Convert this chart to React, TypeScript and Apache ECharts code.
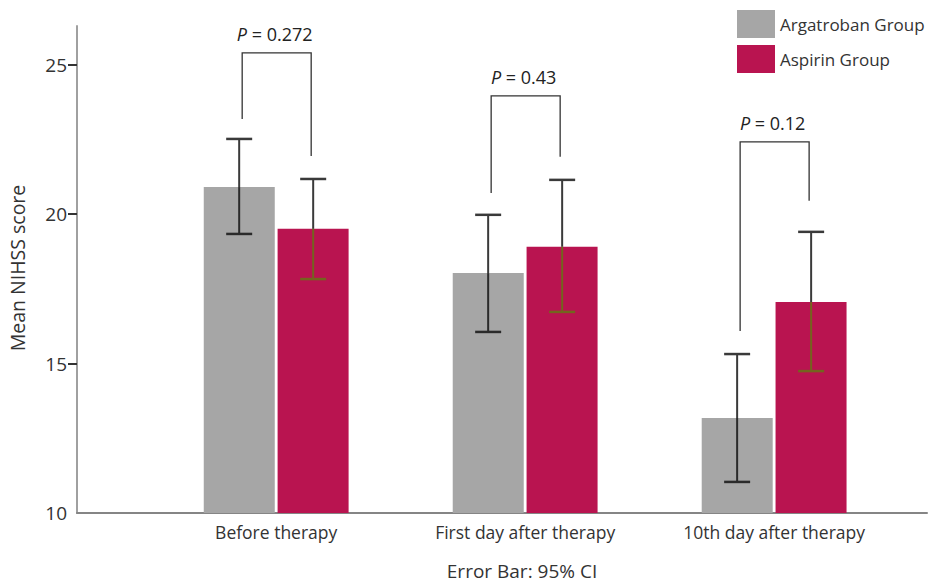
import React, { useEffect, useRef } from "react";
import * as echarts from "echarts";

const categories = ["Before therapy", "First day after therapy", "10th day after therapy"];
const categoryPositions = [1, 2, 3];
const seriesNames = ["Argatroban Group", "Aspirin Group"];
const argatrobanMean = [20.91, 18.03, 13.18];
const argatrobanLow = [19.34, 16.06, 11.04];
const argatrobanHigh = [22.52, 19.98, 15.32];
const aspirinMean = [19.51, 18.91, 17.06];
const aspirinLow = [17.83, 16.73, 14.75];
const aspirinHigh = [21.18, 21.15, 19.41];
const pValues = ["0.272", "0.43", "0.12"];
const bracketTop = [25.4, 23.96, 22.42];
const bracketLeftEnd = [23.19, 20.71, 16.09];
const bracketRightEnd = [21.95, 21.92, 20.45];
const yTicks = [10, 15, 20, 25];

const FONT = "'Open Sans', 'Noto Sans', sans-serif";
const GREY = "#a6a6a6";
const PINK = "#b91450";
const BAR_W = 71;
const HALF_OFFSET = 37;

export default function App() {
  const ref = useRef<HTMLDivElement>(null);

  useEffect(() => {
    if (!ref.current) return;
    const chart = echarts.init(ref.current, undefined, { renderer: "svg" });

    const makeErrorRender = (offset: number, innerColor: string) => (params: any, api: any) => {
      const x = api.value(0);
      const lo = api.coord([x, api.value(1)]);
      const hi = api.coord([x, api.value(2)]);
      const mean = api.coord([x, api.value(3)]);
      const cx = lo[0] + offset;
      const half = 13;
      const dark = "#3a3a3a";
      return {
        type: "group",
        children: [
          { type: "line", shape: { x1: cx, y1: hi[1], x2: cx, y2: mean[1] }, style: { stroke: dark, lineWidth: 2 } },
          { type: "line", shape: { x1: cx, y1: mean[1], x2: cx, y2: lo[1] }, style: { stroke: innerColor, lineWidth: 2 } },
          { type: "line", shape: { x1: cx - half, y1: hi[1], x2: cx + half, y2: hi[1] }, style: { stroke: dark, lineWidth: 2.5 } },
          { type: "line", shape: { x1: cx - half, y1: lo[1], x2: cx + half, y2: lo[1] }, style: { stroke: innerColor, lineWidth: 2.5 } },
        ],
      };
    };

    const bracketRender = (params: any, api: any) => {
      const x = api.value(0);
      const top = api.coord([x, api.value(1)]);
      const le = api.coord([x, api.value(2)]);
      const re = api.coord([x, api.value(3)]);
      const xl = top[0] - 34;
      const xr = top[0] + 35;
      const p = pValues[params.dataIndex];
      return {
        type: "group",
        children: [
          {
            type: "polyline",
            shape: { points: [[xl, le[1]], [xl, top[1]], [xr, top[1]], [xr, re[1]]] },
            style: { stroke: "#333", lineWidth: 1.3, fill: null },
          },
          {
            type: "text",
            x: (xl + xr) / 2 - 2,
            y: top[1] - 19,
            style: {
              text: "{i|P}{n| = " + p + "}",
              align: "center",
              verticalAlign: "middle",
              rich: {
                i: { fontStyle: "italic", fontSize: 18, fontFamily: FONT, fill: "#222" },
                n: { fontSize: 18, fontFamily: FONT, fill: "#222" },
              },
            },
          },
        ],
      };
    };

    chart.setOption({
      animation: false,
      backgroundColor: "#ffffff",
      textStyle: { fontFamily: FONT },
      grid: { left: 77, right: 2, top: 26, bottom: 73, containLabel: false },
      legend: {
        data: seriesNames,
        orient: "vertical",
        left: 737,
        top: 10,
        padding: 0,
        icon: "rect",
        itemWidth: 38,
        itemHeight: 28,
        itemGap: 7,
        textStyle: { fontSize: 17, color: "#333", fontFamily: FONT },
      },
      xAxis: {
        type: "value",
        min: 0.2,
        max: 3.614,
        splitLine: { show: false },
        axisLine: { show: true, lineStyle: { color: "#858585", width: 2 } },
        axisTick: { show: false },
        axisLabel: {
          customValues: categoryPositions,
          formatter: (v: number) => {
            const i = categoryPositions.indexOf(Math.round(v));
            return i >= 0 ? categories[i] : "";
          },
          fontSize: 17.5,
          color: "#333",
          margin: 10,
          fontFamily: FONT,
        },
      },
      yAxis: {
        type: "value",
        min: 10,
        max: 26.3,
        interval: 5,
        splitLine: { show: false },
        axisLine: { show: true, lineStyle: { color: "#a0a0a0", width: 2 } },
        axisTick: { show: true, customValues: [15, 20, 25], length: 9, lineStyle: { color: "#333", width: 2 } },
        axisLabel: { customValues: yTicks, fontSize: 19, color: "#333", margin: 10, fontFamily: FONT },
      },
      graphic: [
        {
          type: "text",
          x: 17,
          y: 268,
          rotation: Math.PI / 2,
          style: { text: "Mean NIHSS score", fontSize: 19.5, fill: "#333", align: "center", verticalAlign: "middle", fontFamily: FONT },
        },
        {
          type: "text",
          x: 522,
          y: 571,
          style: { text: "Error Bar: 95% CI", fontSize: 19, lineHeight: 20, fill: "#333", align: "center", verticalAlign: "middle", fontFamily: FONT },
        },
      ],
      series: [
        {
          name: seriesNames[0],
          type: "bar",
          barWidth: BAR_W,
          barGap: "4%",
          itemStyle: { color: GREY },
          data: categoryPositions.map((p, i) => [p, argatrobanMean[i]]),
        },
        {
          name: seriesNames[1],
          type: "bar",
          barWidth: BAR_W,
          barGap: "4%",
          itemStyle: { color: PINK },
          data: categoryPositions.map((p, i) => [p, aspirinMean[i]]),
        },
        {
          type: "custom",
          name: "errA",
          renderItem: makeErrorRender(-HALF_OFFSET, "#2a2a2a"),
          encode: { x: 0, y: [1, 2] },
          data: categoryPositions.map((p, i) => [p, argatrobanLow[i], argatrobanHigh[i], argatrobanMean[i]]),
          z: 5,
        },
        {
          type: "custom",
          name: "errB",
          renderItem: makeErrorRender(HALF_OFFSET, "#74641e"),
          encode: { x: 0, y: [1, 2] },
          data: categoryPositions.map((p, i) => [p, aspirinLow[i], aspirinHigh[i], aspirinMean[i]]),
          z: 5,
        },
        {
          type: "custom",
          name: "brackets",
          renderItem: bracketRender,
          encode: { x: 0, y: [1, 2, 3] },
          data: categoryPositions.map((p, i) => [p, bracketTop[i], bracketLeftEnd[i], bracketRightEnd[i]]),
          z: 5,
        },
      ],
    });

    return () => chart.dispose();
  }, []);

  return <div ref={ref} style={{ position: "fixed", left: 0, top: 0, width: 929, height: 586 }} />;
}
